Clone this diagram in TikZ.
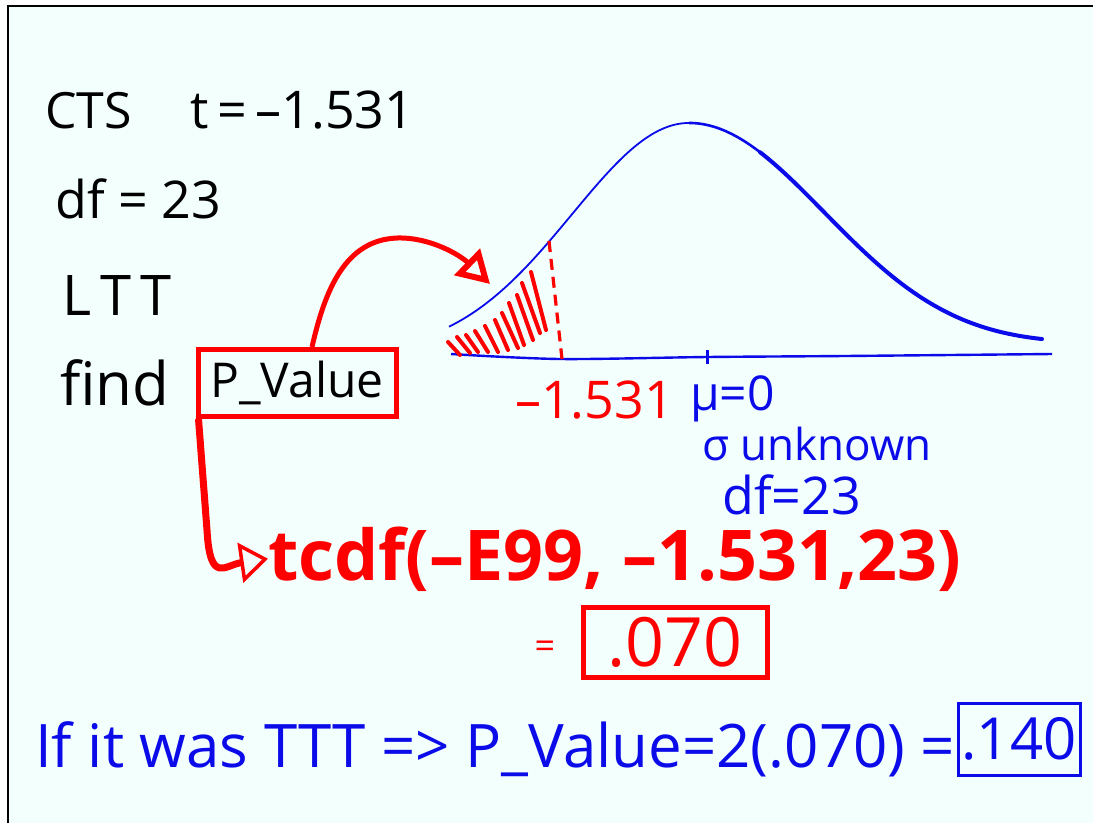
\documentclass[tikz,border=0pt]{standalone}
\usepackage{fontspec}
\setmainfont{Open Sans}
\usetikzlibrary{arrows.meta}
\definecolor{boardbg}{HTML}{F2FFFC}
\definecolor{penred}{HTML}{FF0000}
\definecolor{penblue}{HTML}{0B0BEA}
\newcommand{\fsz}[1]{\fontsize{#1}{#1}\selectfont}
\begin{document}
\begin{tikzpicture}[x=1pt,y=-1pt,
  hand/.style={inner sep=0pt, anchor=base west},
  inkblack/.style={hand, text=black},
  inkred/.style={hand, text=penred},
  inkblue/.style={hand, text=penblue},
  hatch/.style={penred, line width=4pt, line cap=round},
  redbox/.style={draw=penred, line width=5pt, inner sep=0pt},
  bluebox/.style={draw=penblue, line width=3pt, inner sep=0pt},
]
\useasboundingbox (0,0) rectangle (1093,823);
\fill[white] (0,0) rectangle (1093,823);
\fill[boardbg] (8,6) rectangle (1093,823);
\draw[line width=2pt, black] (8,823) -- (8,6) -- (1093,6);

% left column (black)
\node[inkblack] (cts) at (45,128) {\fsz{50}CTS};
\node[inkblack] (tval) at (190,128) {\fsz{52}t\,=\,--1.531};
\node[inkblack] (df) at (55,218) {\fsz{52}df = 23};
\node[inkblack] (ltt) at (62,315) {\fsz{56}L\,T\,T};
\node[inkblack] (find) at (60,405) {\fsz{60}find};
\node[redbox, minimum width=198pt, minimum height=67pt, text=black] (pv) at (297,383) {\fsz{48}P\_Value};

% bell curve
\draw[penblue, line width=1.8pt] plot[domain=449:689, samples=70, smooth] (\x, {355-232*exp(-((\x-689)/117)^2/2)});
\draw[penblue, line width=2.6pt] plot[domain=689:760, samples=30, smooth] (\x, {355-232*exp(-((\x-689)/136)^2/2)-8*((\x-689)/353)^2});
\draw[penblue, line width=4pt, line cap=round] plot[domain=760:1042, samples=80, smooth] (\x, {355-232*exp(-((\x-689)/136)^2/2)-8*((\x-689)/353)^2});
% axis
\draw[penblue, line width=2.4pt] plot[smooth, tension=0.5] coordinates {(451,354) (560,359) (707,357) (844,356) (1052,354)};
\draw[penblue, line width=3pt] (707,350) -- (707,364);
% critical line
\draw[penred, line width=3.2pt, dash pattern=on 11pt off 7pt] (549,241) -- (562,359);
% shading of tail
\draw[hatch] (448,342) -- (460,355);
\draw[hatch] (457,337) -- (470,353);
\draw[hatch] (466,335) -- (478,352);
\draw[hatch] (475,331) -- (488,352);
\draw[hatch] (485,326) -- (498,352);
\draw[hatch] (495,320) -- (508,350);
\draw[hatch] (502,313) -- (518,348);
\draw[hatch] (509,303) -- (524,345);
\draw[hatch] (517,295) -- (533,340);
\draw[hatch] (522,283) -- (540,333);
\draw[hatch] (531,272) -- (546,330);
\coordinate (tail) at (490,284);

% labels under curve
\node[inkred] (crit) at (515,418) {\fsz{52}--1.531};
\node[inkblue] (mu) at (690,410) {\fsz{48}μ=0};
\node[inkblue] (sig) at (702,460) {\fsz{44}σ unknown};
\node[inkblue] (df2) at (722,514) {\fsz{52}df=23};

% calculation
\node[inkred, font=\bfseries] (tcdf) at (268,580) {\fsz{70}tcdf(--E99, --1.531,23)};
\node[text=penred, inner sep=0pt] (eq) at (545,650) {\fsz{36}=};
\node[redbox, minimum width=184pt, minimum height=70pt, text=penred] (res) at (675,642) {\fsz{68}.070};

% connectors
\draw[penred, line width=5pt, -{Triangle[open, length=32pt, width=36pt, line width=6pt]}]
  ([xshift=15pt]pv.north) .. controls (325,290) and (345,240) .. (397,238)
  .. controls (430,237) and (460,255) .. (tail);
\draw[penred, line width=7pt, -{Triangle[open, length=28pt, width=40pt, line width=3.5pt]}]
  ([xshift=3pt]pv.south west) -- (207,530) .. controls (210,585) and (225,565) .. (tcdf.west);

% bottom line
\node[inkblue] (two) at (35,767) {\fsz{60}If it was TTT => P\_Value=2(.070) =};
\node[bluebox, minimum width=122pt, minimum height=72pt, text=penblue] (res2) at (1019,739) {\fsz{58}.140};
\end{tikzpicture}
\end{document}
